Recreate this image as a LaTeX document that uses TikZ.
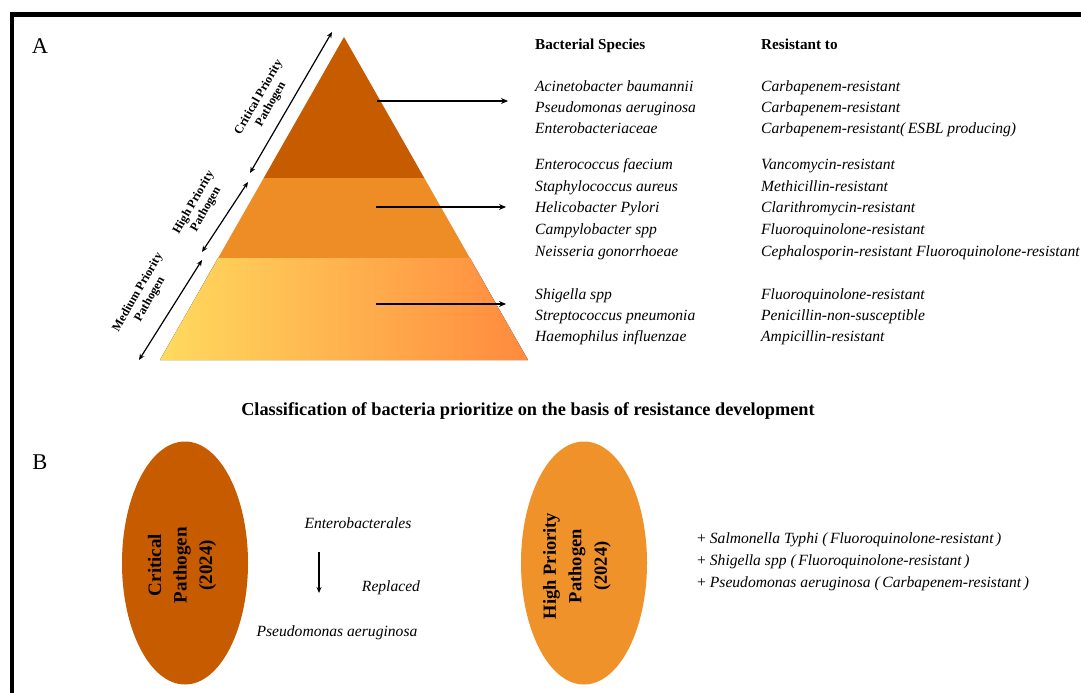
\documentclass[tikz,border=0pt]{standalone}
\usepackage{fontspec}
\setmainfont{Liberation Serif}
\usetikzlibrary{arrows.meta,shapes.geometric}

\definecolor{critorange}{RGB}{199,91,0}
\definecolor{highorange}{RGB}{238,140,38}
\definecolor{medyellow}{RGB}{255,218,94}
\definecolor{medorange}{RGB}{255,138,62}
\definecolor{ellhigh}{RGB}{240,146,42}

\begin{document}
\begin{tikzpicture}[x=1pt,y=-1pt,
  sp/.style={anchor=base west, inner sep=0pt, font=\fontsize{15.6}{18}\selectfont\itshape},
  hdr/.style={anchor=base west, inner sep=0pt, font=\fontsize{15.2}{18}\selectfont\bfseries},
  panel/.style={anchor=base, inner sep=0pt, font=\fontsize{22.5}{24}\selectfont},
  side/.style={rotate=60, align=center, inner sep=0pt, font=\fontsize{12.2}{14}\selectfont\bfseries},
  elltext/.style={rotate=90, align=center, inner sep=0pt, font=\fontsize{19}{25.5}\selectfont\bfseries},
  oval/.style={ellipse, inner sep=0pt, minimum width=126pt, minimum height=243pt},
  tierarrow/.style={line width=1.3pt, -{Stealth[length=7pt,width=6pt]}},
  sidearrow/.style={line width=1.2pt, {Stealth[length=6pt,width=5pt]}-{Stealth[length=6pt,width=5pt]}},
  downarrow/.style={line width=1.1pt, -{Stealth[length=6pt,width=5pt]}},
  ]
\useasboundingbox (0,0) rectangle (1081,693);
\fill[white] (0,0) rectangle (1081,693);

% outer frame (top and left edges)
\draw[line width=4.5pt] (12,693) -- (12,14.5) -- (1081,14.5);

% panel letters
\node[panel] (pa) at (40,53) {A};
\node[panel] (pb) at (40,469) {B};

% ---------- pyramid ----------
\fill[critorange] (344,37) -- (424.3,178) -- (263.7,178) -- cycle;
\fill[highorange] (263.7,178) -- (424.3,178) -- (469.9,258) -- (218.1,258) -- cycle;
\fill[left color=medyellow, right color=medorange]
  (218.1,258) -- (469.9,258) -- (528,360) -- (160,360) -- cycle;

% priority ranges along the left side
\coordinate (critlo) at (250,173);
\coordinate (crithi) at (332,32);
\coordinate (highlo) at (202,252);
\coordinate (highhi) at (248,182);
\coordinate (medlo)  at (139,360);
\coordinate (medhi)  at (202,260);
\draw[sidearrow] (critlo) -- (crithi);
\draw[sidearrow] (highlo) -- (highhi);
\draw[sidearrow] (medlo) -- (medhi);
\node[side] (critlbl) at (265,101) {Critical Priority\\Pathogen};
\node[side] (highlbl) at (200,206) {High Priority\\Pathogen};
\node[side] (medlbl)  at (144,296) {Medium Priority\\Pathogen};

% tier arrows towards the species lists
\coordinate (t1s) at (377,101);
\coordinate (t1e) at (508,101);
\coordinate (t2s) at (376,207);
\coordinate (t2e) at (506,207);
\coordinate (t3s) at (376,304);
\coordinate (t3e) at (506,304);
\draw[tierarrow] (t1s) -- (t1e);
\draw[tierarrow] (t2s) -- (t2e);
\draw[tierarrow] (t3s) -- (t3e);

% ---------- table of species ----------
\node[hdr] (hspec) at (535,49) {Bacterial Species};
\node[hdr] (hres)  at (761,49) {Resistant to};

\node[sp] (s1)  at (535,91)  {Acinetobacter baumannii};
\node[sp] (s2)  at (535,112) {Pseudomonas aeruginosa};
\node[sp] (s3)  at (535,133) {Enterobacteriaceae};
\node[sp] (s4)  at (535,169) {Enterococcus faecium};
\node[sp] (s5)  at (535,191) {Staphylococcus aureus};
\node[sp] (s6)  at (535,212) {Helicobacter Pylori};
\node[sp] (s7)  at (535,234) {Campylobacter spp};
\node[sp] (s8)  at (535,256) {Neisseria gonorrhoeae};
\node[sp] (s9)  at (535,299) {Shigella spp};
\node[sp] (s10) at (535,320) {Streptococcus pneumonia};
\node[sp] (s11) at (535,341) {Haemophilus influenzae};

\node[sp] (r1)  at (761,91)  {Carbapenem-resistant};
\node[sp] (r2)  at (761,112) {Carbapenem-resistant};
\node[sp] (r3)  at (761,133) {Carbapenem-resistant(\,ESBL producing)};
\node[sp] (r4)  at (761,169) {Vancomycin-resistant};
\node[sp] (r5)  at (761,191) {Methicillin-resistant};
\node[sp] (r6)  at (761,212) {Clarithromycin-resistant};
\node[sp] (r7)  at (761,234) {Fluoroquinolone-resistant};
\node[sp] (r8)  at (761,256) {Cephalosporin-resistant Fluoroquinolone-resistant};
\node[sp] (r9)  at (761,299) {Fluoroquinolone-resistant};
\node[sp] (r10) at (761,320) {Penicillin-non-susceptible};
\node[sp] (r11) at (761,341) {Ampicillin-resistant};

% caption between the panels
\node[anchor=base, inner sep=0pt, font=\fontsize{18.3}{21}\selectfont\bfseries] (title)
  at (528,415) {Classification of bacteria prioritize on the basis of resistance development};

% ---------- panel B ----------
\node[oval, fill=critorange] (critell) at (185,563) {};
\node[elltext] (crittxt) at (182,565) {Critical\\Pathogen\\(2024)};

\node[sp, anchor=base] (entero) at (358,528) {Enterobacterales};
\coordinate (repltop) at (319,552);
\coordinate (replbot) at (319,593);
\draw[downarrow] (repltop) -- (replbot);
\node[sp, anchor=base] (repl) at (391,591) {Replaced};
\node[sp, anchor=base] (pseud) at (337,636) {Pseudomonas aeruginosa};

\node[oval, fill=ellhigh] (highell) at (584,563) {};
\node[elltext, font=\fontsize{18.5}{25.5}\selectfont\bfseries] (hightxt) at (577,566)
  {High Priority\\Pathogen\\(2024)};

\node[sp] (add1) at (697,543) {\upshape+ \itshape Salmonella Typhi (\,Fluoroquinolone-resistant\,)};
\node[sp] (add2) at (697,565) {\upshape+ \itshape Shigella spp (\,Fluoroquinolone-resistant\,)};
\node[sp] (add3) at (697,587) {\upshape+ \itshape Pseudomonas aeruginosa (\,Carbapenem-resistant\,)};
\end{tikzpicture}
\end{document}
